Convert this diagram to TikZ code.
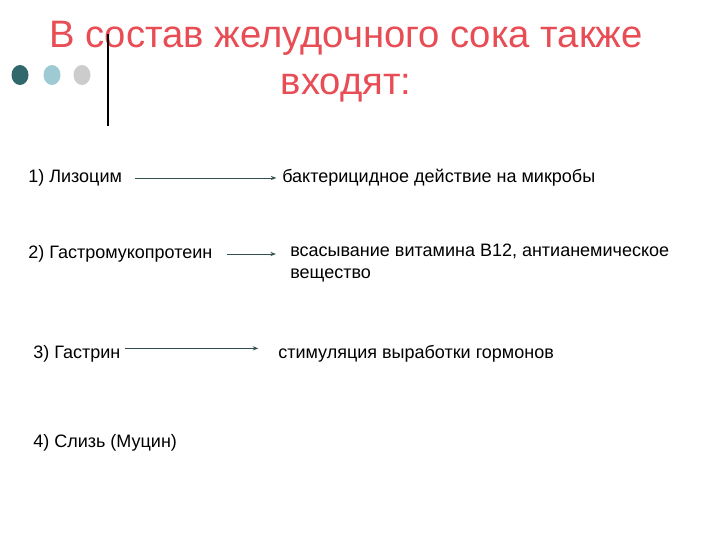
\documentclass[tikz,border=0pt]{standalone}
\usepackage{fontspec}
\setmainfont{Liberation Sans}
\usetikzlibrary{arrows.meta,positioning}
\definecolor{titlered}{RGB}{232,76,84}
\definecolor{dotdark}{RGB}{48,104,108}
\definecolor{dotlight}{RGB}{157,202,211}
\definecolor{dotgray}{RGB}{204,204,204}
\definecolor{arrowgray}{RGB}{50,80,80}

\begin{document}
\begin{tikzpicture}[x=0.025cm,y=-0.025cm, every node/.style={anchor=west,inner sep=0pt},
	item/.style={font=\fontsize{12.8}{15.5}\selectfont},
	effect/.style={font=\fontsize{12.8}{15.5}\selectfont,align=left},
	link/.style={-{Stealth[length=4pt,width=3pt]},arrowgray,line width=0.7pt}]
	\useasboundingbox (0,0) rectangle (720,540);
	% title
	\node[titlered,anchor=center,font=\fontsize{27.2}{33.4}\selectfont,align=center] (title) at (346,62) {В состав желудочного сока также\\входят:};
	\fill[dotdark] (20,75) ellipse (8.5 and 10);
	\fill[dotlight] (52,75) ellipse (8.5 and 10);
	\fill[dotgray] (82,75) ellipse (8.5 and 10);
	\draw[line width=1.6pt] (108,34) -- (108,126);
	% left column
	\node[item] (s1) at (28,178) {1) Лизоцим};
	\node[item] (s2) at (28,254) {2) Гастромукопротеин};
	\node[item] (s3) at (33,354) {3) Гастрин};
	\node[item] (s4) at (33,443) {4) Слизь (Муцин)};
	% right column
	\node[effect] (e1) at (282,178) {бактерицидное действие на микробы};
	\node[effect,anchor=north west] (e2) at (290,244) {всасывание витамина В12, антианемическое\\вещество};
	\node[effect] (e3) at (278,354) {стимуляция выработки гормонов};
	% arrows
	\draw[link] ([xshift=9pt]s1.east) -- ([xshift=-4pt]e1.west);
	\draw[link] ([xshift=10pt]s2.east) -- ([xshift=-10pt]e2.west |- s2.east);
	\draw[link] ([xshift=3pt,yshift=4pt]s3.east) -- ([xshift=-14pt,yshift=4pt]e3.west);
\end{tikzpicture}
\end{document}
